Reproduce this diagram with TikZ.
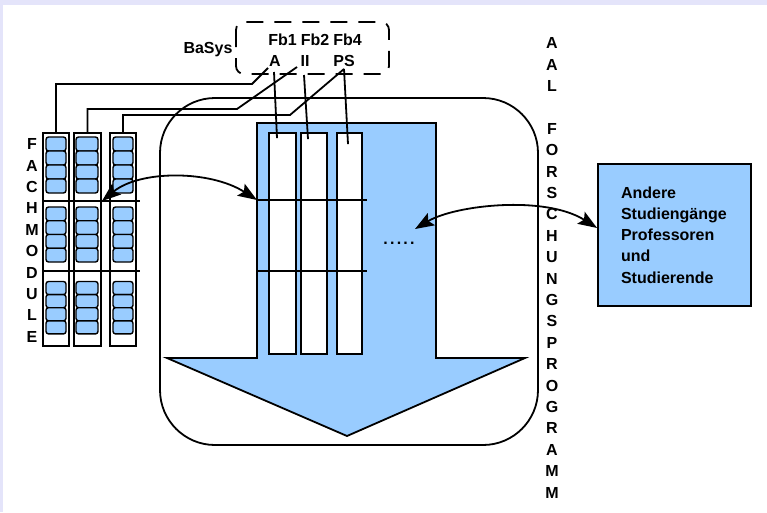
\documentclass[tikz,border=0pt]{standalone}
\usepackage{fontspec}
\setmainfont{Liberation Sans}
\usetikzlibrary{arrows.meta}
\definecolor{lav}{RGB}{228,228,250}
\definecolor{skyb}{RGB}{153,204,255}
\begin{document}
\begin{tikzpicture}[x=1pt,y=-1pt,line width=1.8pt,
  lbl/.style={font=\fontsize{16}{18}\selectfont\bfseries,inner sep=0pt},
  wcol/.style={draw,fill=white,inner sep=0pt,minimum height=221pt},
  modcol/.style={draw,fill=white,inner sep=0pt,minimum height=213pt},
  cell/.style={draw,fill=skyb,rounded corners=2.5pt,line width=1.4pt},
  headtip/.tip={Stealth[length=19pt,width=14pt,inset=3.5pt]},
  dblarrow/.style={headtip-headtip},
  dashedbox/.style={dash pattern=on 17pt off 11pt,rounded corners=8pt}]
\useasboundingbox (0,0) rectangle (767,512);
\fill[lav] (0,0) rectangle (767,512);
\fill[white] (3,5) rectangle (767,512);

% big rounded frame
\draw[rounded corners=55pt] (160,98) rectangle (538,445);

% blue arrow
\draw[fill=skyb] (257,123) -- (436,123) -- (436,358) -- (525,358) -- (347,436) -- (167,358) -- (257,358) -- cycle;

% white columns
\node[wcol,minimum width=27pt] (w1) at (282.5,243.5) {};
\node[wcol,minimum width=26pt] (w2) at (314,243.5) {};
\node[wcol,minimum width=25pt] (w3) at (349.5,243.5) {};
\draw (257,200) -- (367,200);
\draw (257,271) -- (367,271);
\node[lbl] (dots) at (399,243) {.\kern2.2pt.\kern2.2pt.\kern2.2pt.\kern2.2pt.};

% module columns
\node[modcol,minimum width=26pt] (m1) at (56,239.5) {};
\node[modcol,minimum width=27pt] (m2) at (87.5,239.5) {};
\node[modcol,minimum width=26pt] (m3) at (123,239.5) {};
\foreach \xl/\xr in {46/66,76/98,113/133}
  \foreach \ys/\h in {137/14,207/13.75,281.5/13.1}
    \foreach \k in {0,...,3}
      \draw[cell] (\xl,{\ys+\k*\h}) rectangle (\xr,{\ys+(\k+1)*\h});
\draw (43,201) -- (140,201);
\draw (43,271) -- (140,271);

% vertical words
\foreach \c [count=\i from 0] in {F,A,C,H,M,O,D,U,L,E}
  \node[lbl,anchor=base] (fm\i) at (32,{149.6+21.4*\i}) {\c};
\foreach \c [count=\i from 0] in {A,A,L}
  \node[lbl,anchor=base] (aal\i) at (552,{48.6+21.4*\i}) {\c};
\foreach \c [count=\i from 4] in {F,O,R,S,C,H,U,N,G,S,P,R,O,G,R,A,M,M}
  \node[lbl,anchor=base] (fp\i) at (552,{48.6+21.4*\i}) {\c};

% dashed group box and labels
\draw[dashedbox] (236,22) rectangle (389,74);
\node[lbl,anchor=base] (basys) at (208,53) {BaSys};
\node[lbl,anchor=base] (fb1) at (282.5,45) {Fb1};
\node[lbl,anchor=base] (fb2) at (315,45) {Fb2};
\node[lbl,anchor=base] (fb4) at (347.5,45) {Fb4};
\node[lbl,anchor=base] (la) at (275,66) {A};
\node[lbl,anchor=base] (lii) at (305,66) {II};
\node[lbl,anchor=base] (lps) at (344,66) {PS};
\coordinate (pa) at (274,72);
\coordinate (pii) at (304,75);
\coordinate (pps) at (344,69);
\coordinate (ea) at (268,68);
\coordinate (eii) at (297,67);

% connectors modules -> labels
\draw (m1.north) |- (252,84) -- (ea);
\draw (m2.north) |- (237,109) -- (eii);
\draw (m3.north) |- (290,115) -- (pps);
% labels -> white columns
\draw (pa) -- ([xshift=-5.5pt,yshift=-6pt]w1.north);
\draw (pii) -- ([xshift=-6pt,yshift=-7pt]w2.north);
\draw (pps) -- ([xshift=-1.5pt,yshift=-12pt]w3.north);

% other box
\node[draw,fill=skyb,font=\fontsize{16}{21.25}\selectfont\bfseries,
  minimum width=153pt,minimum height=142pt,text width=107pt,inner xsep=23pt,
  inner ysep=0pt,align=left] (andere) at (674.5,235)
  {Andere\\Studiengänge\\Professoren\\und\\Studierende};

% curved double arrows
\coordinate (a1s) at (102,201);
\coordinate (a1e) at (257,200);
\draw[dblarrow] (a1s) .. controls (140,170) and (210,170) .. (a1e);
\coordinate (a2s) at (415,229);
\draw[dblarrow] (a2s) .. controls (455,205) and (545,195) .. ([yshift=7pt]andere.west);
\end{tikzpicture}
\end{document}
